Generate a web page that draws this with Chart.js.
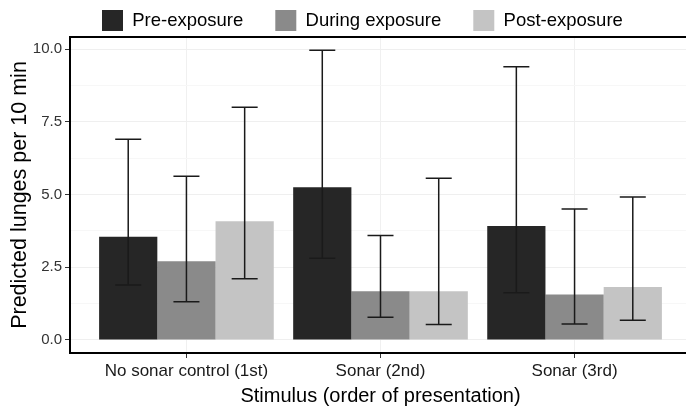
<!DOCTYPE html>
<html>
<head>
<meta charset="utf-8">
<script src="https://cdn.jsdelivr.net/npm/chart.js@4/dist/chart.umd.min.js"></script>
<style>
  html, body { margin: 0; padding: 0; background: #fff; overflow: hidden; }
  #wrap { width: 694px; height: 408px; }
</style>
</head>
<body>
<div id="wrap"><canvas id="myChart" width="694" height="408"></canvas></div>
<script>
const categories = ['No sonar control (1st)', 'Sonar (2nd)', 'Sonar (3rd)'];
const seriesNames = ['Pre-exposure', 'During exposure', 'Post-exposure'];

const preMean = [3.55, 5.25, 3.92];
const preLow = [1.89, 2.81, 1.62];
const preHigh = [6.90, 9.96, 9.40];

const duringMean = [2.71, 1.67, 1.56];
const duringLow = [1.31, 0.78, 0.55];
const duringHigh = [5.63, 3.59, 4.50];

const postMean = [4.08, 1.67, 1.82];
const postLow = [2.10, 0.53, 0.68];
const postHigh = [8.00, 5.56, 4.92];

const yTicks = [0, 2.5, 5, 7.5, 10];
const yTickLabels = ['0.0', '2.5', '5.0', '7.5', '10.0'];
const yMinorTicks = [1.25, 3.75, 6.25, 8.75];

const FONT = '"Liberation Sans", Arial, Helvetica, sans-serif';
const LEGEND_PAD = 32;

const errLow = [preLow, duringLow, postLow];
const errHigh = [preHigh, duringHigh, postHigh];

function toPoints(vals) {
  return vals.map((v, i) => ({ x: i + 1, y: v }));
}

// error bars drawn on top of the bars
const errorBars = {
  id: 'errorBars',
  afterDatasetsDraw(chart) {
    const ctx = chart.ctx;
    const yScale = chart.scales.y;
    ctx.save();
    ctx.strokeStyle = '#1a1a1a';
    ctx.lineWidth = 1.5;
    chart.data.datasets.forEach((ds, di) => {
      const meta = chart.getDatasetMeta(di);
      meta.data.forEach((bar, i) => {
        const x = bar.x;
        const yl = yScale.getPixelForValue(errLow[di][i]);
        const yh = yScale.getPixelForValue(errHigh[di][i]);
        const cap = 13;
        ctx.beginPath();
        ctx.moveTo(x, yl); ctx.lineTo(x, yh);
        ctx.moveTo(x - cap, yl); ctx.lineTo(x + cap, yl);
        ctx.moveTo(x - cap, yh); ctx.lineTo(x + cap, yh);
        ctx.stroke();
      });
    });
    ctx.restore();
  }
};

// panel frame
const frame = {
  id: 'frame',
  afterDatasetsDraw(chart) {
    const { left, top, right, bottom } = chart.chartArea;
    const ctx = chart.ctx;
    ctx.save();
    ctx.strokeStyle = '#000';
    ctx.lineWidth = 2;
    ctx.strokeRect(left, top, right - left, bottom - top);
    ctx.restore();
  }
};

// fixed legend block height, then nudge the legend up so the keys sit near the top
const legendPlace = {
  id: 'legendPlace',
  beforeInit(chart) {
    const lg = chart.legend;
    const orig = lg.fit;
    lg.fit = function () {
      orig.call(this);
      this.height = 37;
    };
  },
  afterLayout(chart) {
    const lg = chart.legend;
    lg.top = 10 - LEGEND_PAD;
    lg.bottom = chart.chartArea.top;
    lg.height = lg.bottom - lg.top;
  }
};

new Chart(document.getElementById('myChart'), {
  type: 'bar',
  data: {
    datasets: [
      { label: seriesNames[0], data: toPoints(preMean), backgroundColor: '#262626' },
      { label: seriesNames[1], data: toPoints(duringMean), backgroundColor: '#8a8a8a' },
      { label: seriesNames[2], data: toPoints(postMean), backgroundColor: '#c4c4c4' }
    ]
  },
  options: {
    responsive: false,
    animation: false,
    layout: { padding: { left: 0, right: 3, top: 0, bottom: 0 } },
    datasets: { bar: { categoryPercentage: 0.9, barPercentage: 1.0, borderWidth: 0 } },
    plugins: {
      tooltip: { enabled: false },
      legend: {
        position: 'top',
        align: 'start',
        fullSize: false,
        labels: {
          boxWidth: 21,
          boxHeight: 21,
          padding: LEGEND_PAD,
          color: '#000',
          font: { family: FONT, size: 18.5 }
        }
      }
    },
    scales: {
      x: {
        type: 'linear',
        min: 0.4,
        max: 3.6,
        offset: false,
        afterBuildTicks(scale) {
          scale.ticks = categories.map((c, i) => ({ value: i + 1 }));
        },
        afterFit(scale) { scale.height = 55; },
        ticks: {
          color: '#1a1a1a',
          padding: 3,
          maxRotation: 0,
          font: { family: FONT, size: 17 },
          callback: (v) => categories[Math.round(v) - 1]
        },
        grid: { offset: false, color: '#f0f0f0', tickColor: '#333', tickLength: 5, lineWidth: 1 },
        border: { display: false },
        title: {
          display: true,
          text: 'Stimulus (order of presentation)',
          color: '#000',
          font: { family: FONT, size: 20 },
          padding: { top: 2, bottom: 0 }
        }
      },
      y: {
        min: -0.45,
        max: 10.42,
        afterBuildTicks(scale) {
          scale.ticks = yTicks.concat(yMinorTicks).sort((a, b) => a - b).map(v => ({ value: v }));
        },
        afterFit(scale) { scale.width = 70; },
        ticks: {
          color: '#333',
          padding: 3,
          font: { family: FONT, size: 15 },
          callback: (v) => {
            const k = yTicks.indexOf(v);
            return k >= 0 ? yTickLabels[k] : '';
          }
        },
        grid: {
          color: (c) => yTicks.includes(c.tick && c.tick.value) ? '#efefef' : '#f7f7f7',
          tickColor: (c) => yTicks.includes(c.tick && c.tick.value) ? '#333' : 'rgba(0,0,0,0)',
          tickLength: 5,
          lineWidth: 1
        },
        border: { display: false },
        title: {
          display: true,
          text: 'Predicted lunges per 10 min',
          color: '#000',
          font: { family: FONT, size: 21.5 },
          padding: { top: 7, bottom: 2 }
        }
      }
    }
  },
  plugins: [legendPlace, errorBars, frame]
});
</script>
</body>
</html>
